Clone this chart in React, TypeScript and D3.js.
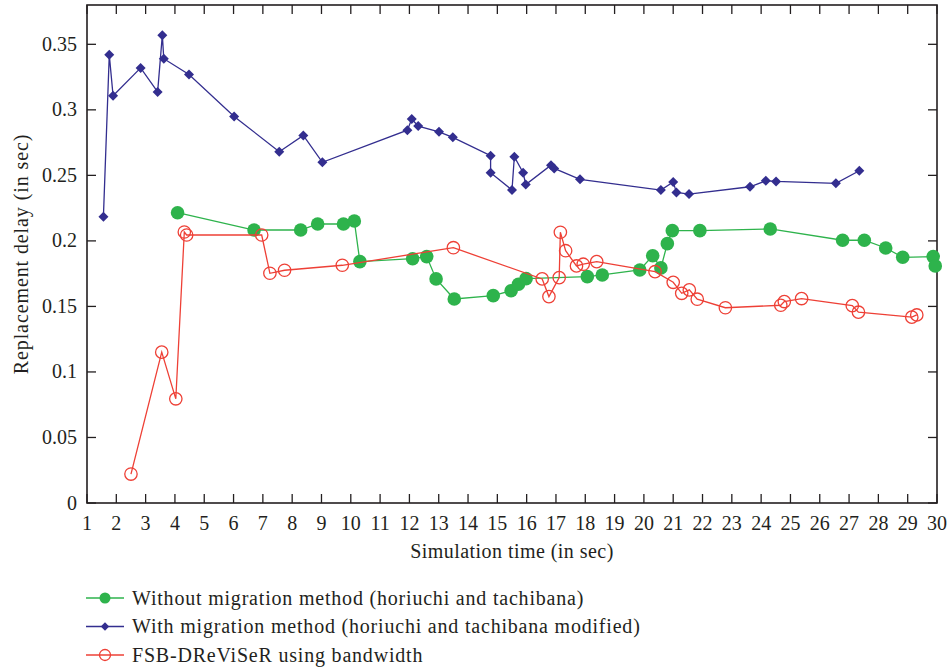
import React from 'react';
import * as d3 from 'd3';

const WIDTH = 948;
const HEIGHT = 670;
const MARGIN = { top: 5, right: 11, bottom: 167, left: 87 };
const FONT = '"Liberation Serif", "DejaVu Serif", serif';

const X_TICKS = d3.range(1, 31);
const Y_TICKS = [0, 0.05, 0.1, 0.15, 0.2, 0.25, 0.3, 0.35];

// Without migration method (horiuchi and tachibana)
const GREEN_X = [4.09, 6.7, 8.29, 8.87, 9.75, 10.12, 10.31, 12.11, 12.59, 12.91, 13.53, 14.86, 15.47, 15.72, 15.98, 18.07, 18.58, 19.86, 20.3, 20.58, 20.8, 20.97, 21.91, 24.31, 26.78, 27.52, 28.25, 28.83, 29.87, 29.94];
const GREEN_Y = [0.2215, 0.2083, 0.2083, 0.2129, 0.2129, 0.2152, 0.1842, 0.1864, 0.188, 0.171, 0.1557, 0.1582, 0.162, 0.1669, 0.1712, 0.1727, 0.174, 0.1778, 0.1887, 0.1794, 0.1979, 0.2078, 0.2078, 0.2091, 0.2005, 0.2005, 0.1946, 0.1875, 0.188, 0.1809];

// With migration method (horiuchi and tachibana modified)
const BLUE_X = [1.56, 1.76, 1.89, 2.83, 3.41, 3.57, 3.62, 4.48, 6.02, 7.56, 8.38, 9.03, 11.93, 12.08, 12.3, 13.01, 13.48, 14.77, 14.77, 15.5, 15.58, 15.88, 15.97, 16.83, 16.94, 17.82, 20.58, 21.0, 21.11, 21.54, 23.62, 24.16, 24.51, 26.55, 27.35];
const BLUE_Y = [0.2185, 0.342, 0.3107, 0.332, 0.3137, 0.357, 0.339, 0.327, 0.295, 0.268, 0.2805, 0.26, 0.2845, 0.293, 0.2876, 0.2832, 0.279, 0.265, 0.252, 0.2388, 0.2642, 0.252, 0.243, 0.2578, 0.2553, 0.247, 0.2388, 0.245, 0.237, 0.2357, 0.2413, 0.2459, 0.2454, 0.2439, 0.2535];

// FSB-DReViSeR using bandwidth
const RED_X = [2.5, 3.55, 4.03, 4.32, 4.4, 6.96, 7.24, 7.74, 9.71, 13.5, 16.53, 16.76, 17.11, 17.15, 17.33, 17.7, 17.93, 18.39, 20.38, 21.0, 21.29, 21.55, 21.82, 22.78, 24.67, 24.79, 25.38, 27.11, 27.32, 29.14, 29.31];
const RED_Y = [0.0221, 0.1151, 0.0795, 0.2068, 0.2045, 0.2045, 0.1753, 0.1776, 0.1814, 0.1948, 0.171, 0.1575, 0.172, 0.2066, 0.1925, 0.1809, 0.1822, 0.1842, 0.1765, 0.1684, 0.16, 0.1626, 0.1555, 0.149, 0.1509, 0.1537, 0.156, 0.1506, 0.1456, 0.1418, 0.1435];

const LEGEND = [
  { key: 'green', label: 'Without migration method (horiuchi and tachibana)' },
  { key: 'blue', label: 'With migration method (horiuchi and tachibana modified)' },
  { key: 'red', label: 'FSB-DReViSeR using bandwidth' },
];

const COLORS = { green: '#2eb34c', blue: '#332e8f', red: '#ee4036' };

const zip = (xs: number[], ys: number[]) => xs.map((x, i) => [x, ys[i]] as [number, number]);

function Marker({ kind, cx, cy, small }: { kind: string; cx: number; cy: number; small?: boolean }) {
  if (kind === 'green') {
    return <circle cx={cx} cy={cy} r={small ? 5.5 : 6.8} fill={COLORS.green} />;
  }
  if (kind === 'blue') {
    const s = small ? 4.2 : 5;
    return (
      <path
        d={`M${cx},${cy - s}L${cx + s},${cy}L${cx},${cy + s}L${cx - s},${cy}Z`}
        fill={COLORS.blue}
      />
    );
  }
  return <circle cx={cx} cy={cy} r={small ? 5.5 : 6.2} fill="none" stroke={COLORS.red} strokeWidth={1.3} />;
}

export default function App() {
  const x = d3.scaleLinear().domain([1, 30]).range([MARGIN.left, WIDTH - MARGIN.right]);
  const y = d3.scaleLinear().domain([0, 0.38]).range([HEIGHT - MARGIN.bottom, MARGIN.top]);
  const line = d3
    .line<[number, number]>()
    .x((d) => x(d[0]))
    .y((d) => y(d[1]));

  const series = [
    { key: 'green', pts: zip(GREEN_X, GREEN_Y) },
    { key: 'red', pts: zip(RED_X, RED_Y) },
    { key: 'blue', pts: zip(BLUE_X, BLUE_Y) },
  ];

  const x0 = MARGIN.left;
  const x1 = WIDTH - MARGIN.right;
  const y0 = HEIGHT - MARGIN.bottom;
  const y1 = MARGIN.top;
  const tick = 9;

  return (
    <svg
      width={WIDTH}
      height={HEIGHT}
      style={{ position: 'absolute', left: 0, top: 0, background: '#fff' }}
      fontFamily={FONT}
    >
      {/* ticks, mirrored on all four sides */}
      {X_TICKS.map((t) => (
        <g key={`xt-${t}`} stroke="#231f20" strokeWidth={1.3}>
          <line x1={x(t)} x2={x(t)} y1={y0} y2={y0 - tick} />
          <line x1={x(t)} x2={x(t)} y1={y1} y2={y1 + tick} />
        </g>
      ))}
      {Y_TICKS.map((t) => (
        <g key={`yt-${t}`} stroke="#231f20" strokeWidth={1.3}>
          <line x1={x0} x2={x0 + tick} y1={y(t)} y2={y(t)} />
          <line x1={x1} x2={x1 - tick} y1={y(t)} y2={y(t)} />
        </g>
      ))}
      <rect x={x0} y={y1} width={x1 - x0} height={y0 - y1} fill="none" stroke="#231f20" strokeWidth={1.6} />

      {X_TICKS.map((t) => (
        <text key={`xl-${t}`} x={x(t)} y={y0 + 27} textAnchor="middle" fontSize={20} fill="#231f20">
          {t}
        </text>
      ))}
      {Y_TICKS.map((t) => (
        <text key={`yl-${t}`} x={x0 - 10} y={y(t) + 6.5} textAnchor="end" fontSize={20} fill="#231f20">
          {String(+t.toFixed(2))}
        </text>
      ))}

      <text x={(x0 + x1) / 2} y={y0 + 55} textAnchor="middle" fontSize={20} letterSpacing={0.45} fill="#231f20">
        Simulation time (in sec)
      </text>
      <text
        transform={`translate(28, ${(y0 + y1) / 2}) rotate(-90)`}
        textAnchor="middle"
        fontSize={20}
        letterSpacing={0.9}
        fill="#231f20"
      >
        Replacement delay (in sec)
      </text>

      {series.map((s) => (
        <g key={s.key}>
          <path d={line(s.pts) ?? ''} fill="none" stroke={COLORS[s.key as keyof typeof COLORS]} strokeWidth={1.3} />
          {s.pts.map((p, i) => (
            <Marker key={i} kind={s.key} cx={x(p[0])} cy={y(p[1])} />
          ))}
        </g>
      ))}

      <g transform="translate(86, 598)">
        {LEGEND.map((l, i) => (
          <g key={l.key} transform={`translate(0, ${i * 28.5})`}>
            <line x1={0} x2={38} y1={0} y2={0} stroke={COLORS[l.key as keyof typeof COLORS]} strokeWidth={1.3} />
            <Marker kind={l.key} cx={19} cy={0} small />
            <text x={46} y={6.5} fontSize={20} letterSpacing={0.8} fill="#231f20">
              {l.label}
            </text>
          </g>
        ))}
      </g>
    </svg>
  );
}
